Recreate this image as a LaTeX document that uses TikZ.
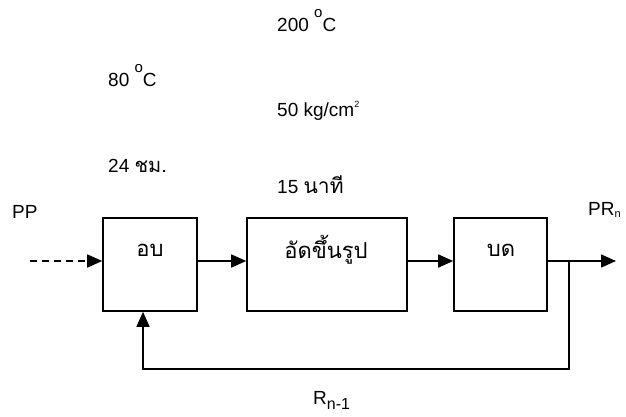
\documentclass[tikz,border=0pt]{standalone}
\usepackage{fontspec}
\setmainfont{Liberation Sans}
\newfontfamily\thai[Script=Thai]{Loma}
\usetikzlibrary{arrows.meta}
\newcommand{\degring}{\raisebox{14pt}{\fontsize{15}{15}\selectfont o}}
\begin{document}
\begin{tikzpicture}[x=1pt,y=-1pt,
  box/.style={draw,line width=1.6pt,minimum height=93pt,inner sep=0pt},
  lbl/.style={font=\fontsize{19}{21}\selectfont,inner sep=0pt,anchor=base west},
  tlbl/.style={font=\fontsize{22}{24}\selectfont\thai,inner sep=0pt},
  conn/.style={line width=1.6pt,-{Triangle[length=15pt,width=13pt]}}]
\useasboundingbox (0,0) rectangle (626,417);
% boxes
\node[box,minimum width=94pt] (b1) at (150,264.5) {};
\node[box,minimum width=160pt] (b2) at (327,264.5) {};
\node[box,minimum width=93pt] (b3) at (500.5,264.5) {};
\node[tlbl] (t1) at (150,250) {อบ};
\node[tlbl] (t2) at (326,250) {อัดขึ้นรูป};
\node[tlbl] (t3) at (501,250) {บด};
% parameter texts
\node[lbl] (p1) at (277,32) {200 \degring C};
\node[lbl] (p2) at (108,87) {80 \degring C};
\node[lbl] (p3) at (277,117) {50 kg/cm\raisebox{9pt}{\fontsize{9}{9}\selectfont 2}};
\node[lbl] (p4) at (108,172) {24 {\thai\fontsize{20}{22}\selectfont ชม.}};
\node[lbl] (p5) at (277,193) {15 {\thai\fontsize{21}{22}\selectfont นาที}};
\node[lbl] (pp) at (12,218) {PP};
\node[lbl] (pr) at (588,215) {PR\textsubscript{\fontsize{11}{11}\selectfont n}};
\node[lbl] (rn) at (313,404) {R\textsubscript{\fontsize{16}{16}\selectfont n-1}};
% connectors
\coordinate (in) at (30,261);
\coordinate (out) at (616,261);
\coordinate (br) at (569,261);
\coordinate (bl) at (569,369);
\coordinate (fl) at (143,369);
\draw[conn,dash pattern=on 7pt off 5pt] (in) -- ([yshift=3.5pt]b1.west);
\draw[conn] ([yshift=3.5pt]b1.east) -- ([yshift=3.5pt]b2.west);
\draw[conn] ([yshift=3.5pt]b2.east) -- ([yshift=3.5pt]b3.west);
\draw[conn] ([yshift=3.5pt]b3.east) -- (out);
\draw[conn] (br) -- (bl) -- (fl) -- (fl |- b1.south);
\end{tikzpicture}
\end{document}
